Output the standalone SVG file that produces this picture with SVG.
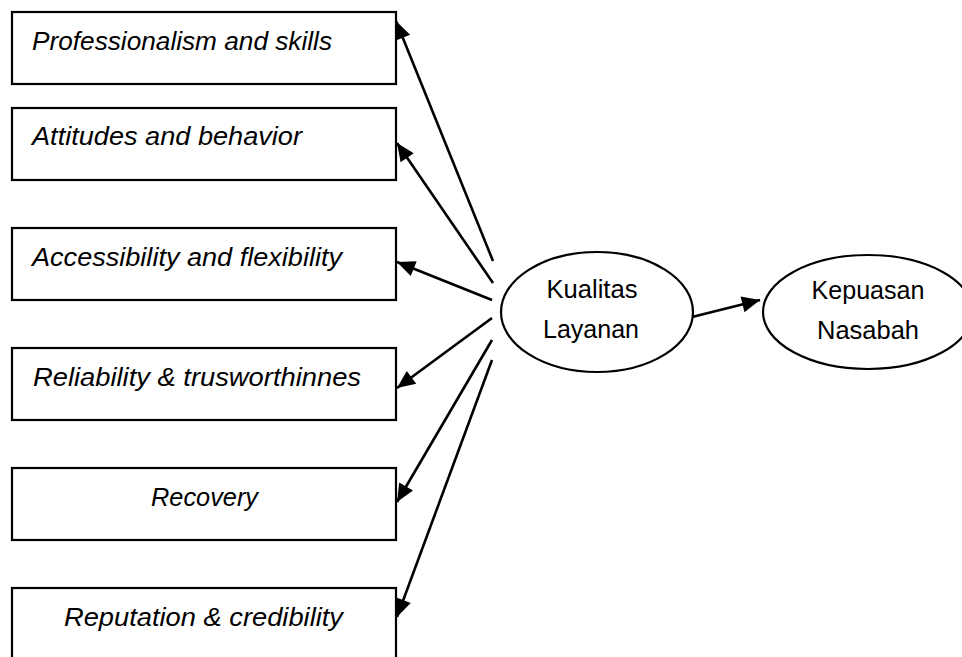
<svg xmlns="http://www.w3.org/2000/svg" width="962" height="657" viewBox="0 0 962 657">
<style>
.box{fill:#fff;stroke:#000;stroke-width:2.2}
.ell{fill:#fff;stroke:#000;stroke-width:2.2}
.lbl{font-family:"Liberation Sans",Arial,sans-serif;font-style:italic;font-size:25px;fill:#000}
.elbl{font-family:"Liberation Sans",Arial,sans-serif;font-size:25px;fill:#000;text-anchor:middle}
.conn line{stroke:#000;stroke-width:2.6;marker-end:url(#ah)}
</style>
<defs>
<marker id="ah" markerUnits="userSpaceOnUse" markerWidth="20" markerHeight="18" refX="18" refY="8" orient="auto" overflow="visible">
<path d="M0,0 L18,8 L0,16 Z" fill="#000"/>
</marker>
</defs>
<rect width="962" height="657" fill="#fff"/>
<g id="n1"><rect class="box" x="12" y="12" width="384" height="72"/><text class="lbl" x="32" y="50" textLength="300" lengthAdjust="spacingAndGlyphs">Professionalism and skills</text></g>
<g id="n2"><rect class="box" x="12" y="108" width="384" height="72"/><text class="lbl" x="32" y="145" textLength="270" lengthAdjust="spacingAndGlyphs">Attitudes and behavior</text></g>
<g id="n3"><rect class="box" x="12" y="228" width="384" height="72"/><text class="lbl" x="32" y="266" textLength="310" lengthAdjust="spacingAndGlyphs">Accessibility and flexibility</text></g>
<g id="n4"><rect class="box" x="12" y="348" width="384" height="72"/><text class="lbl" x="33" y="386" textLength="328" lengthAdjust="spacingAndGlyphs">Reliability &amp; trusworthinnes</text></g>
<g id="n5"><rect class="box" x="12" y="468" width="384" height="72"/><text class="lbl" x="151" y="506" textLength="107" lengthAdjust="spacingAndGlyphs">Recovery</text></g>
<g id="n6"><rect class="box" x="12" y="588" width="384" height="72"/><text class="lbl" x="64" y="626" textLength="279" lengthAdjust="spacingAndGlyphs">Reputation &amp; credibility</text></g>
<g id="kualitas"><ellipse class="ell" cx="597" cy="312" rx="96" ry="60"/><text class="elbl" x="592" y="298" textLength="91" lengthAdjust="spacingAndGlyphs">Kualitas</text><text class="elbl" x="591" y="338" textLength="96" lengthAdjust="spacingAndGlyphs">Layanan</text></g>
<g id="kepuasan"><ellipse class="ell" cx="868" cy="312" rx="105" ry="57"/><text class="elbl" x="868" y="299" textLength="113" lengthAdjust="spacingAndGlyphs">Kepuasan</text><text class="elbl" x="868" y="339" textLength="102" lengthAdjust="spacingAndGlyphs">Nasabah</text></g>
<g class="conn" id="connectors">
<line x1="493" y1="261" x2="396" y2="21"/>
<line x1="493" y1="283" x2="397" y2="143"/>
<line x1="492" y1="300" x2="397" y2="262"/>
<line x1="492" y1="318" x2="397" y2="388"/>
<line x1="492" y1="340" x2="397" y2="502"/>
<line x1="492" y1="360" x2="397" y2="617"/>
<line x1="692" y1="317" x2="760" y2="300"/>
</g>
</svg>
